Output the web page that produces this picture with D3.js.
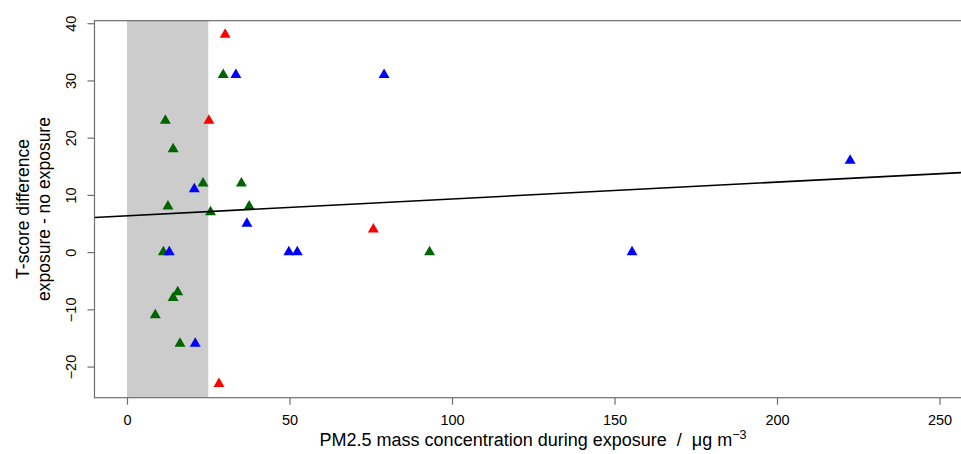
<!DOCTYPE html>
<html>
<head>
<meta charset="utf-8">
<script src="https://cdn.jsdelivr.net/npm/d3@7"></script>
<style>
  body { margin: 0; background: #fff; }
  text { font-family: "Liberation Sans", Arial, sans-serif; fill: #000; }
</style>
</head>
<body>
<div id="chart"></div>
<script>
// values
var redPm   = [30.2, 25.2, 75.8, 28.3];
var redT    = [38, 23, 4, -23];
var greenPm = [29.6, 11.8, 14.2, 23.4, 35.2, 12.6, 37.6, 25.7, 11.2, 15.6, 14.2, 8.7, 16.3, 93.1];
var greenT  = [31, 23, 18, 12, 12, 8, 8, 7, 0, -7, -8, -11, -16, 0];
var bluePm  = [33.5, 79.1, 20.7, 36.9, 13.0, 49.8, 52.4, 21.0, 155.4, 222.5];
var blueT   = [31, 31, 11, 5, 0, 0, 0, -16, 0, 16];
var shadeRange = [0, 25];
var fitIntercept = 6.35, fitSlope = 0.0294;
var xTicks = [0, 50, 100, 150, 200, 250];
var yTicks = [-20, -10, 0, 10, 20, 30, 40];

var width = 961, height = 454;
// plot region runs past the right edge of the window
var plot = {left: 94.5, right: 972, top: 20.7, bottom: 397.7};

var svg = d3.select("div#chart")
  .append("svg")
    .attr("width", width)
    .attr("height", height);

var x = d3.scaleLinear().domain([-10, 260]).range([plot.left, plot.right]);
var y = d3.scaleLinear().domain([-25.44, 40.44]).range([plot.bottom, plot.top]);

svg.append("clipPath")
    .attr("id", "clip")
  .append("rect")
    .attr("x", plot.left)
    .attr("y", plot.top)
    .attr("width", plot.right - plot.left)
    .attr("height", plot.bottom - plot.top);

// shaded band
svg.append("rect")
    .attr("x", x(shadeRange[0]))
    .attr("y", plot.top)
    .attr("width", x(shadeRange[1]) - x(shadeRange[0]))
    .attr("height", plot.bottom - plot.top)
    .attr("fill", "#cccccc");

// box
svg.append("rect")
    .attr("x", plot.left)
    .attr("y", plot.top)
    .attr("width", plot.right - plot.left)
    .attr("height", plot.bottom - plot.top)
    .attr("fill", "none")
    .attr("stroke", "#6e6e6e")
    .attr("stroke-width", 1.2);

// axes
var xAxis = svg.append("g")
    .attr("transform", "translate(0," + plot.bottom + ")")
    .call(d3.axisBottom(x).tickValues(xTicks).tickSize(7).tickFormat(d3.format("d")));
xAxis.select(".domain").remove();
xAxis.selectAll("line").attr("stroke", "#6e6e6e").attr("stroke-width", 1.2);
xAxis.selectAll("text")
    .attr("font-family", "Liberation Sans, Arial, sans-serif")
    .attr("font-size", "14.5px")
    .attr("fill", "#000")
    .attr("dy", null)
    .attr("y", 27.3);

var yAxis = svg.append("g")
    .attr("transform", "translate(" + plot.left + ",0)")
    .call(d3.axisLeft(y).tickValues(yTicks).tickSize(7).tickFormat(d3.format("d")));
yAxis.select(".domain").remove();
yAxis.selectAll("line").attr("stroke", "#6e6e6e").attr("stroke-width", 1.2);
yAxis.selectAll("text")
    .attr("font-family", "Liberation Sans, Arial, sans-serif")
    .attr("font-size", "14.5px")
    .attr("fill", "#000")
    .attr("x", null)
    .attr("dy", null)
    .attr("text-anchor", "middle")
    .attr("transform", "translate(-18.5,0) rotate(-90)");

// points
var sym = d3.symbol().type(d3.symbolTriangle).size(52);
function drawGroup(xs, ys, colour) {
  var pts = xs.map(function(v, i) { return {pm: v, t: ys[i]}; });
  svg.append("g")
    .selectAll("path")
    .data(pts)
    .enter().append("path")
      .attr("d", sym)
      .attr("fill", colour)
      .attr("transform", function(d) { return "translate(" + x(d.pm) + "," + y(d.t) + ")"; });
}
drawGroup(greenPm, greenT, "#006400");
drawGroup(bluePm, blueT, "#0000ff");
drawGroup(redPm, redT, "#ff0000");

// fitted line
var fitX = x.domain();
svg.append("line")
    .attr("clip-path", "url(#clip)")
    .attr("x1", x(fitX[0]))
    .attr("y1", y(fitIntercept + fitSlope * fitX[0]))
    .attr("x2", x(fitX[1]))
    .attr("y2", y(fitIntercept + fitSlope * fitX[1]))
    .attr("stroke", "#000")
    .attr("stroke-width", 1.6);

// axis titles
var xl = svg.append("text")
    .attr("x", 533)
    .attr("y", 446)
    .attr("text-anchor", "middle")
    .attr("font-size", "18px")
    .style("white-space", "pre");
xl.append("tspan").text("PM2.5 mass concentration during exposure  /  \u03bcg m");
xl.append("tspan").attr("dy", -7.5).attr("font-size", "12.5px").text("\u22123");

var yl = svg.append("text")
    .attr("transform", "translate(0,209) rotate(-90)")
    .attr("text-anchor", "middle")
    .attr("font-size", "17.5px");
yl.append("tspan").attr("x", 0).attr("y", 29).text("T-score difference");
yl.append("tspan").attr("x", 0).attr("y", 50).text("exposure - no exposure");
</script>
</body>
</html>
